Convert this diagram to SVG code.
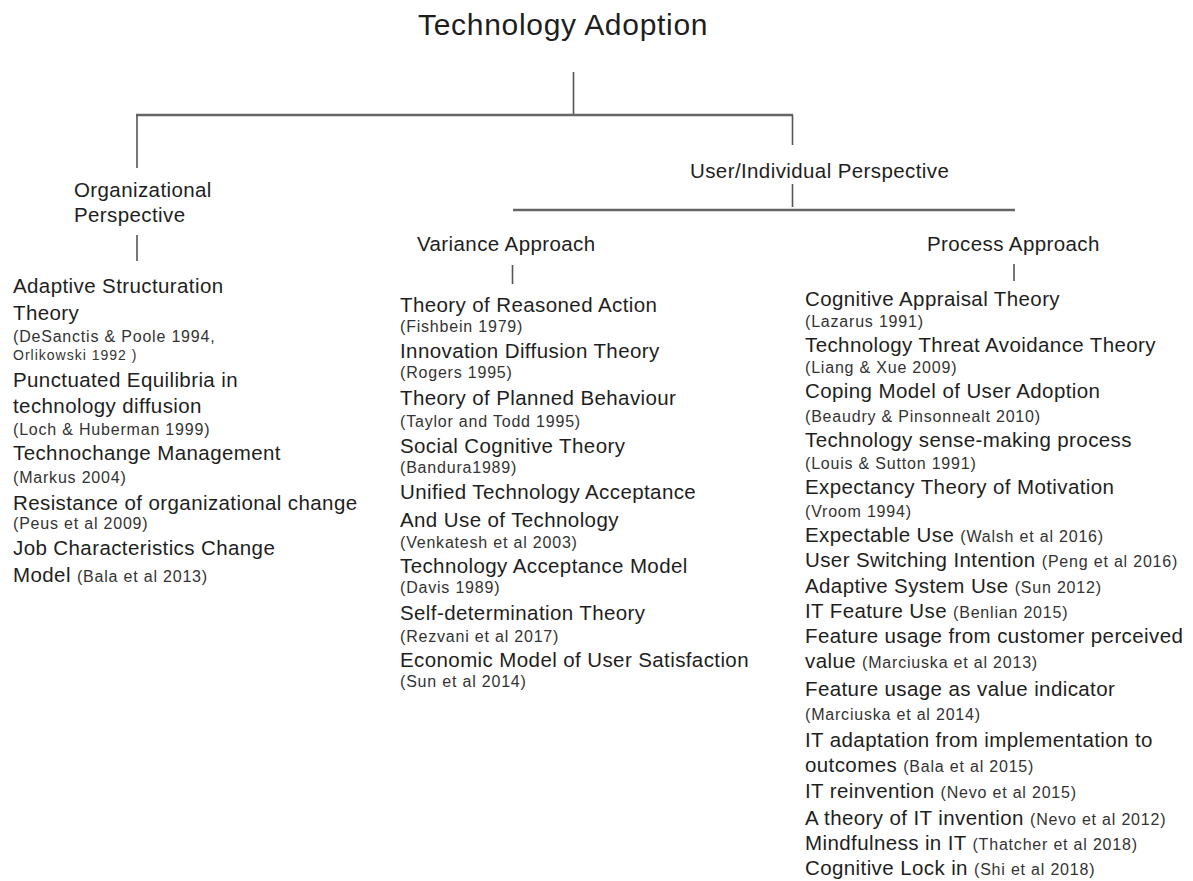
<svg xmlns="http://www.w3.org/2000/svg" width="1193" height="881" viewBox="0 0 1193 881">
<style>
text{font-family:"Liberation Sans",Arial,sans-serif;fill:#1e1e1e}
.t{font-size:30px;letter-spacing:0.7px}
.m{font-size:20.5px;letter-spacing:0.4px}
.s{font-size:16px;letter-spacing:0.8px;fill:#333}
.xs{font-size:14px;letter-spacing:1px;fill:#333}
.c{stroke:#555;fill:none;stroke-width:1.6}
.h{stroke:#666;fill:none;stroke-width:2.6}
</style>
<rect width="1193" height="881" fill="#fff"/>
<g id="connectors">
<line class="c" x1="573.5" y1="72" x2="573.5" y2="115"/>
<line class="h" x1="136" y1="115" x2="793" y2="115"/>
<line class="c" x1="137" y1="115" x2="137" y2="168"/>
<line class="c" x1="792.5" y1="115" x2="792.5" y2="145"/>
<line class="c" x1="137" y1="235" x2="137" y2="261"/>
<line class="c" x1="792.5" y1="184" x2="792.5" y2="207"/>
<line class="h" x1="513" y1="210" x2="1015" y2="210"/>
<line class="c" x1="512.5" y1="265" x2="512.5" y2="284"/>
<line class="c" x1="1014" y1="264" x2="1014" y2="281"/>
</g>
<g id="title"><text class="t" x="418" y="35">Technology Adoption</text></g>
<g id="org"><text class="m" x="74" y="197">Organizational</text><text class="m" x="74" y="222">Perspective</text></g>
<g id="user"><text class="m" x="690" y="178">User/Individual Perspective</text></g>
<g id="variance"><text class="m" x="417" y="251">Variance Approach</text></g>
<g id="process"><text class="m" x="927" y="251">Process Approach</text></g>
<g id="org-list">
<text class="m" x="13" y="293">Adaptive Structuration</text>
<text class="m" x="13" y="320">Theory</text>
<text class="s" x="13" y="342">(DeSanctis &amp; Poole 1994,</text>
<text class="xs" x="13" y="360">Orlikowski 1992 )</text>
<text class="m" x="13" y="387">Punctuated Equilibria in</text>
<text class="m" x="13" y="413">technology diffusion</text>
<text class="s" x="13" y="435">(Loch &amp; Huberman 1999)</text>
<text class="m" x="13" y="460">Technochange Management</text>
<text class="s" x="13" y="483">(Markus 2004)</text>
<text class="m" x="13" y="510">Resistance of organizational change</text>
<text class="s" x="13" y="529">(Peus et al 2009)</text>
<text class="m" x="13" y="555">Job Characteristics Change</text>
<text class="m" x="13" y="582">Model <tspan class="s">(Bala et al 2013)</tspan></text>
</g>
<g id="variance-list">
<text class="m" x="400" y="312">Theory of Reasoned Action</text>
<text class="s" x="400" y="332">(Fishbein 1979)</text>
<text class="m" x="400" y="358">Innovation Diffusion Theory</text>
<text class="s" x="400" y="378">(Rogers 1995)</text>
<text class="m" x="400" y="405">Theory of Planned Behaviour</text>
<text class="s" x="400" y="427">(Taylor and Todd 1995)</text>
<text class="m" x="400" y="453">Social Cognitive Theory</text>
<text class="s" x="400" y="473">(Bandura1989)</text>
<text class="m" x="400" y="499">Unified Technology Acceptance</text>
<text class="m" x="400" y="527">And Use of Technology</text>
<text class="s" x="400" y="548">(Venkatesh et al 2003)</text>
<text class="m" x="400" y="573">Technology Acceptance Model</text>
<text class="s" x="400" y="593">(Davis 1989)</text>
<text class="m" x="400" y="620">Self-determination Theory</text>
<text class="s" x="400" y="642">(Rezvani et al 2017)</text>
<text class="m" x="400" y="667">Economic Model of User Satisfaction</text>
<text class="s" x="400" y="687">(Sun et al 2014)</text>
</g>
<g id="process-list">
<text class="m" x="805" y="306">Cognitive Appraisal Theory</text>
<text class="s" x="805" y="327">(Lazarus 1991)</text>
<text class="m" x="805" y="352">Technology Threat Avoidance Theory</text>
<text class="s" x="805" y="373">(Liang &amp; Xue 2009)</text>
<text class="m" x="805" y="398">Coping Model of User Adoption</text>
<text class="s" x="805" y="422">(Beaudry &amp; Pinsonnealt 2010)</text>
<text class="m" x="805" y="447">Technology sense-making process</text>
<text class="s" x="805" y="469">(Louis &amp; Sutton 1991)</text>
<text class="m" x="805" y="494">Expectancy Theory of Motivation</text>
<text class="s" x="805" y="517">(Vroom 1994)</text>
<text class="m" x="805" y="542">Expectable Use <tspan class="s">(Walsh et al 2016)</tspan></text>
<text class="m" x="805" y="567">User Switching Intention <tspan class="s">(Peng et al 2016)</tspan></text>
<text class="m" x="805" y="593">Adaptive System Use <tspan class="s">(Sun 2012)</tspan></text>
<text class="m" x="805" y="618">IT Feature Use <tspan class="s">(Benlian 2015)</tspan></text>
<text class="m" x="805" y="643">Feature usage from customer perceived</text>
<text class="m" x="805" y="668">value <tspan class="s">(Marciuska et al 2013)</tspan></text>
<text class="m" x="805" y="696">Feature usage as value indicator</text>
<text class="s" x="805" y="720">(Marciuska et al 2014)</text>
<text class="m" x="805" y="747">IT adaptation from implementation to</text>
<text class="m" x="805" y="772">outcomes <tspan class="s">(Bala et al 2015)</tspan></text>
<text class="m" x="805" y="798">IT reinvention <tspan class="s">(Nevo et al 2015)</tspan></text>
<text class="m" x="805" y="825">A theory of IT invention <tspan class="s">(Nevo et al 2012)</tspan></text>
<text class="m" x="805" y="850">Mindfulness in IT <tspan class="s">(Thatcher et al 2018)</tspan></text>
<text class="m" x="805" y="875">Cognitive Lock in <tspan class="s">(Shi et al 2018)</tspan></text>
</g>
</svg>
